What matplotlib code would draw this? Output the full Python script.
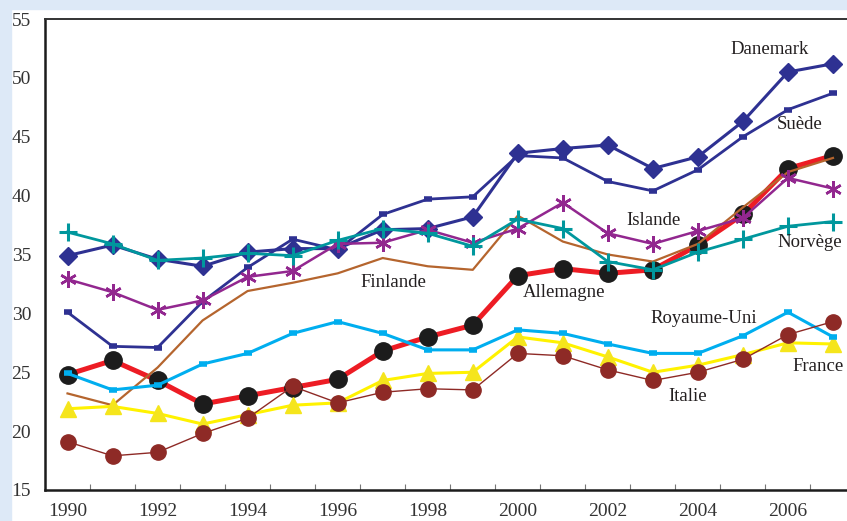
import matplotlib
matplotlib.use("Agg")
import matplotlib.pyplot as plt
from matplotlib.patches import Rectangle
from matplotlib.ticker import FixedLocator

years = list(range(1990, 2008))
tick_years = [str(y) for y in range(1990, 2008, 2)]

danemark = [34.9, 35.8, 34.6, 34.0, 35.2, 35.5, 35.5, 37.1, 37.2, 38.2, 43.6, 44.0, 44.3, 42.3, 43.3, 46.3, 50.5, 51.2]
suede = [30.1, 27.2, 27.1, 31.0, 33.9, 36.3, 35.4, 38.4, 39.7, 39.9, 43.4, 43.2, 41.2, 40.4, 42.2, 45.0, 47.3, 48.7]
norvege = [36.9, 35.9, 34.5, 34.7, 35.1, 34.9, 36.2, 37.2, 36.8, 35.7, 38.0, 37.2, 34.4, 33.7, 35.2, 36.3, 37.4, 37.8]
islande = [32.9, 31.8, 30.3, 31.1, 33.1, 33.6, 35.9, 36.0, 37.1, 36.0, 37.2, 39.4, 36.8, 35.9, 37.0, 38.1, 41.5, 40.6]
finlande = [23.2, 22.2, 25.4, 29.4, 31.9, 32.6, 33.4, 34.7, 34.0, 33.7, 38.3, 36.1, 35.0, 34.4, 35.9, 39.0, 42.0, 43.2]
allemagne = [24.8, 26.0, 24.3, 22.3, 23.0, 23.7, 24.4, 26.8, 28.0, 29.0, 33.2, 33.8, 33.4, 33.7, 35.8, 38.4, 42.3, 43.4]
royaume_uni = [24.9, 23.5, 23.9, 25.7, 26.6, 28.3, 29.3, 28.3, 26.9, 26.9, 28.6, 28.3, 27.4, 26.6, 26.6, 28.1, 30.1, 28.0]
france = [21.9, 22.1, 21.5, 20.6, 21.4, 22.2, 22.4, 24.3, 24.9, 25.0, 28.0, 27.5, 26.3, 25.0, 25.6, 26.5, 27.5, 27.4]
italie = [19.1, 17.9, 18.2, 19.8, 21.1, 23.8, 22.4, 23.3, 23.6, 23.5, 26.6, 26.4, 25.2, 24.3, 25.0, 26.1, 28.2, 29.3]

plt.rcParams['font.family'] = ['Liberation Serif', 'DejaVu Serif']

fig = plt.figure(figsize=(8.47, 5.21), dpi=100, facecolor="white")
fig.patches.append(Rectangle((0, 0), 11 / 847, 1, transform=fig.transFigure,
                             color="#dde9f7", zorder=0))
fig.patches.append(Rectangle((0, 1 - 9 / 521), 1, 9 / 521, transform=fig.transFigure,
                             color="#dde9f7", zorder=0))

ax = fig.add_axes([45 / 847, 31 / 521, 810.5 / 847, 471 / 521])
x = list(range(len(years)))

ax.plot(x, allemagne, color="#ed1c24", lw=3.6, marker="o", ms=12.5,
        mfc="#1c1c1c", mec="#1c1c1c", zorder=3)
ax.plot(x, finlande, color="#b5652e", lw=1.6, zorder=4)
ax.plot(x, france, color="#fff200", lw=2.2, marker="^", ms=11,
        mfc="#f5e51c", mec="#f5e51c", zorder=4)
ax.plot(x, royaume_uni, color="#00aeef", lw=2.2, marker="_", ms=6, mew=4, zorder=4)
ax.plot(x, italie, color="#8e2a26", lw=1.0, marker="o", ms=11,
        mfc="#8e2a26", mec="#8e2a26", zorder=5)
ax.plot(x, suede, color="#2e3192", lw=2.0, marker="_", ms=6, mew=4, zorder=5)
ax.plot(x, danemark, color="#2e3192", lw=2.2, marker="D", ms=9, zorder=6)
ax.plot(x, islande, color="#92278f", lw=1.8, marker=(6, 2, 0), ms=12, mew=1.8, zorder=6)
ax.plot(x, norvege, color="#00979d", lw=2.0, marker="+", ms=13, mew=2.2, zorder=7)

labels = [
    ("Danemark", 15.6, 52.4),
    ("Suède", 16.27, 46.0),
    ("Islande", 13.02, 37.85),
    ("Norvège", 16.49, 36.05),
    ("Finlande", 7.24, 32.6),
    ("Allemagne", 11.02, 31.8),
    ("Royaume-Uni", 14.13, 29.6),
    ("France", 16.67, 25.5),
    ("Italie", 13.78, 22.9),
]
for name, lx, ly in labels:
    ax.text(lx, ly, name, fontsize=13.5, color="#231f20", ha="center", va="center", zorder=8)

ax.set_xlim(-0.5, 17.5)
ax.set_ylim(15, 55)
ax.set_yticks(range(15, 56, 5))
ax.set_xticks(range(0, 18, 2))
ax.set_xticklabels(tick_years)
ax.xaxis.set_minor_locator(FixedLocator([i - 0.5 for i in range(1, 18)]))
ax.tick_params(axis="both", which="major", length=0, labelsize=14, colors="#333333")
ax.tick_params(axis="x", which="major", pad=9)
ax.tick_params(axis="y", which="major", pad=10)
ax.tick_params(axis="x", which="minor", direction="in", length=4, width=0.8, color="#777777")

for side in ["left", "bottom"]:
    ax.spines[side].set_linewidth(1.8)
    ax.spines[side].set_color("#1c1c1c")
ax.spines["top"].set_linewidth(1.4)
ax.spines["top"].set_color("#333333")
ax.spines["right"].set_visible(False)

fig.savefig("out.png", dpi=100)
